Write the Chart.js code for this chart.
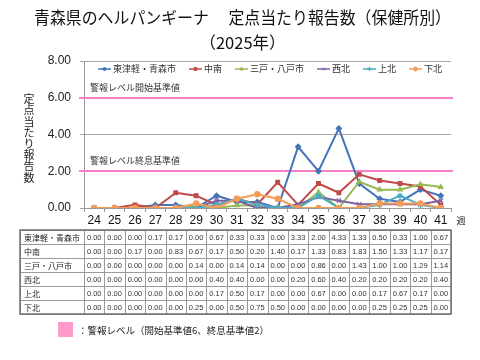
<!DOCTYPE html>
<html>
<head>
<meta charset="utf-8">
<script src="https://cdn.jsdelivr.net/npm/chart.js@4.4.1/dist/chart.umd.min.js"></script>
<style>
  html, body { margin: 0; padding: 0; background: #fff; }
  #wrap { width: 480px; height: 360px; }
</style>
</head>
<body>
<div id="wrap"><canvas id="chart" width="480" height="360"></canvas></div>
<script>
const weeks = ['24','25','26','27','28','29','30','31','32','33','34','35','36','37','38','39','40','41'];
const areaNames = ['東津軽・青森市', '中南', '三戸・八戸市', '西北', '上北', '下北'];

const aomori   = [0, 0, 0, 0.17, 0.17, 0, 0.67, 0.33, 0.33, 0, 3.33, 2.00, 4.33, 1.33, 0.50, 0.33, 1.00, 0.67];
const chunan   = [0, 0, 0.17, 0, 0.83, 0.67, 0.17, 0.50, 0.20, 1.40, 0.17, 1.33, 0.83, 1.83, 1.50, 1.33, 1.17, 0.17];
const hachinohe = [0, 0, 0, 0, 0, 0.14, 0, 0.14, 0.14, 0, 0, 0.86, 0, 1.43, 1.00, 1.00, 1.29, 1.14];
const seihoku  = [0, 0, 0, 0, 0, 0, 0.40, 0.40, 0, 0, 0.20, 0.60, 0.40, 0.20, 0.20, 0.20, 0.20, 0.40];
const kamikita = [0, 0, 0, 0, 0, 0, 0.17, 0.50, 0.17, 0, 0, 0.67, 0, 0, 0.17, 0.67, 0.17, 0];
const shimokita = [0, 0, 0, 0, 0, 0.25, 0, 0.50, 0.75, 0.50, 0, 0, 0, 0, 0.25, 0.25, 0.25, 0];

const alertStart = 6;
const alertEnd = 2;

const seriesData = [aomori, chunan, hachinohe, seihoku, kamikita, shimokita];
const colors = ['#4674B8', '#BE4B48', '#98B954', '#7D60A0', '#4AACC5', '#F59D56'];
const markers = ['rectRot', 'rect', 'triangle', 'crossRot', 'star', 'circle'];

const jp = "'Noto Sans CJK JP', sans-serif";
const num = "'Liberation Sans', Arial, sans-serif";

const overlay = {
  id: 'overlay',
  beforeDatasetsDraw(chart) {
    const { ctx, scales: { x, y } } = chart;
    ctx.save();
    // alert level lines
    ctx.strokeStyle = '#F77FC6';
    ctx.lineWidth = 2;
    [alertStart, alertEnd].forEach(v => {
      const py = Math.round(y.getPixelForValue(v));
      ctx.beginPath();
      ctx.moveTo(x.left - 5, py);
      ctx.lineTo(x.right + 2, py);
      ctx.stroke();
    });
    ctx.fillStyle = '#333';
    ctx.font = '9px ' + jp;
    ctx.textBaseline = 'middle';
    ctx.fillText('警報レベル開始基準値', x.left + 6, y.getPixelForValue(alertStart) - 10);
    ctx.fillText('警報レベル終息基準値', x.left + 6, y.getPixelForValue(alertEnd) - 11);
    ctx.restore();
  },
  afterDraw(chart) {
    const { ctx, scales: { x, y } } = chart;
    ctx.save();

    // legend inside the plot
    ctx.font = '9px ' + jp;
    ctx.textBaseline = 'middle';
    let lx = 98;
    const ly = 69;
    chart.data.datasets.forEach((ds, i) => {
      ctx.strokeStyle = ds.borderColor;
      ctx.fillStyle = ds.borderColor;
      ctx.lineWidth = 1.5;
      ctx.beginPath();
      ctx.moveTo(lx, ly);
      ctx.lineTo(lx + 13, ly);
      ctx.stroke();
      ctx.lineWidth = 1;
      Chart.helpers.drawPoint(ctx, {
        pointStyle: ds.pointStyle, radius: 2, rotation: 0, borderWidth: 1
      }, lx + 6.5, ly);
      ctx.fillStyle = '#333';
      ctx.fillText(ds.label, lx + 15, ly);
      lx += 15 + ctx.measureText(ds.label).width + 13;
    });

    // y axis title, upright characters stacked
    ctx.font = '11px ' + jp;
    ctx.textAlign = 'center';
    ctx.fillStyle = '#222';
    const yTitle = '定点当たり報告数';
    for (let i = 0; i < yTitle.length; i++) {
      ctx.fillText(yTitle[i], 29, 99 + i * 11.2);
    }

    // unit on x axis
    ctx.font = '9px ' + jp;
    ctx.fillText('週', x.right + 10, 221);

    // data table
    const colW = x.width / weeks.length;
    const top = 230, rowH = 14, labL = 20;
    const bottom = top + rowH * seriesData.length;
    ctx.strokeStyle = '#9a9a9a';
    ctx.lineWidth = 1;
    ctx.beginPath();
    for (let r = 0; r <= seriesData.length; r++) {
      const py = top + r * rowH + 0.5;
      ctx.moveTo(labL, py);
      ctx.lineTo(x.right, py);
    }
    ctx.moveTo(labL + 0.5, top);
    ctx.lineTo(labL + 0.5, bottom);
    for (let c = 0; c <= weeks.length; c++) {
      const px = Math.round(x.left + c * colW) + 0.5;
      ctx.moveTo(px, top);
      ctx.lineTo(px, bottom);
    }
    ctx.stroke();
    ctx.strokeStyle = '#707070';
    ctx.lineWidth = 1.5;
    ctx.strokeRect(labL, top, x.right - labL, bottom - top);

    ctx.textBaseline = 'middle';
    seriesData.forEach((vals, r) => {
      const cy = top + r * rowH + rowH / 2 + 0.5;
      ctx.textAlign = 'left';
      ctx.fillStyle = '#222';
      ctx.font = '8px ' + jp;
      ctx.fillText(areaNames[r], labL + 4, cy, x.left - labL - 6);
      ctx.textAlign = 'center';
      ctx.fillStyle = '#333';
      ctx.font = '7.5px ' + num;
      vals.forEach((v, c) => {
        ctx.fillText(v.toFixed(2), x.left + (c + 0.5) * colW, cy);
      });
    });

    // bottom legend for alert level
    ctx.fillStyle = '#FF99CC';
    ctx.fillRect(58, 322, 15, 15);
    ctx.fillStyle = '#222';
    ctx.textAlign = 'left';
    ctx.font = '9.5px ' + jp;
    ctx.fillText('：警報レベル（開始基準値6、終息基準値2）', 78, 330);

    ctx.restore();
  }
};

new Chart(document.getElementById('chart'), {
  type: 'line',
  data: {
    labels: weeks,
    datasets: seriesData.map((d, i) => ({
      label: areaNames[i],
      data: d,
      borderColor: colors[i],
      backgroundColor: colors[i],
      borderWidth: 2,
      pointStyle: markers[i],
      pointRadius: markers[i] === 'crossRot' || markers[i] === 'star' ? 3 : 2.6,
      pointBorderWidth: 1.2,
      order: seriesData.length - i,
      tension: 0
    }))
  },
  options: {
    responsive: false,
    animation: false,
    layout: { padding: { left: 34, right: 29, top: 0, bottom: 132 } },
    plugins: {
      legend: { display: false },
      tooltip: { enabled: false },
      title: {
        display: true,
        text: ['青森県のヘルパンギーナ　 定点当たり報告数（保健所別）', '（2025年）'],
        color: '#111',
        font: { family: jp, size: 16.5, weight: 'normal', lineHeight: '25px' },
        padding: { top: 5, bottom: 6 }
      }
    },
    scales: {
      x: {
        offset: true,
        afterFit: s => { s.height = 20; },
        grid: { display: true, drawOnChartArea: false, offset: true, tickLength: 4, color: '#999' },
        border: { color: '#999' },
        ticks: { color: '#111', padding: 1, font: { family: num, size: 12 }, maxRotation: 0, autoSkip: false }
      },
      y: {
        min: 0,
        max: 8,
        afterFit: s => { s.width = 50; },
        grid: { color: '#a6a6a6', tickLength: 4 },
        border: { color: '#999' },
        ticks: {
          stepSize: 2,
          padding: 9,
          color: '#222',
          font: { family: num, size: 12 },
          callback: v => v.toFixed(2)
        }
      }
    }
  },
  plugins: [overlay]
});
</script>
</body>
</html>
